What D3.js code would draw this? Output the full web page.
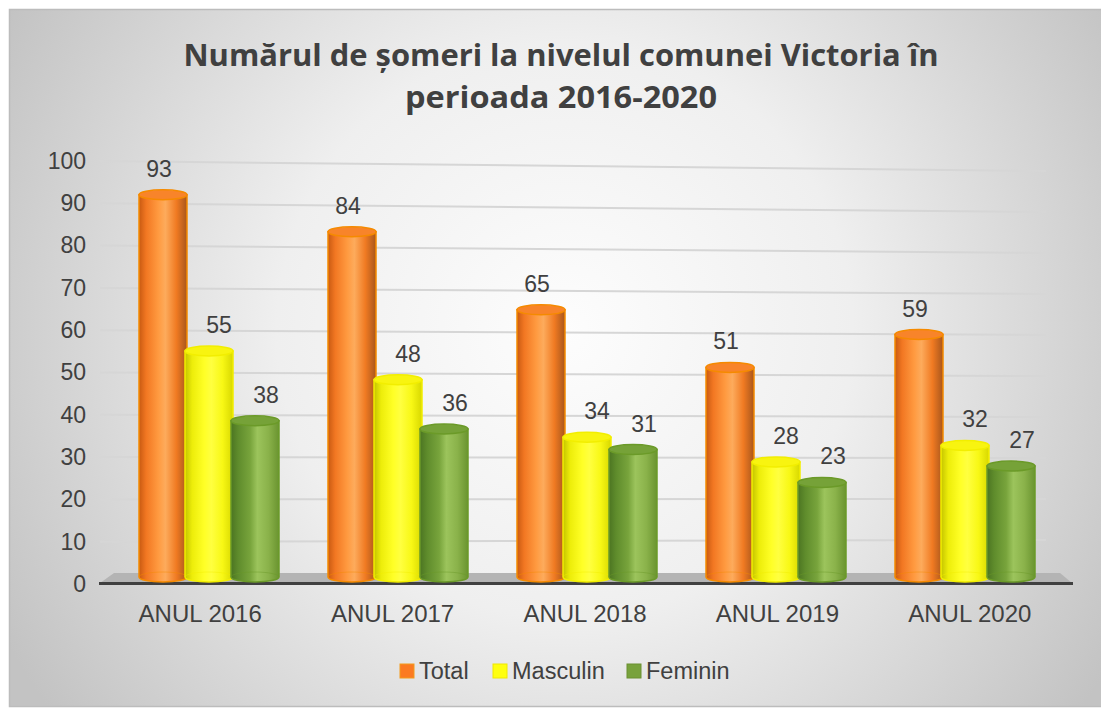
<!DOCTYPE html>
<html>
<head>
<meta charset="utf-8">
<script src="https://cdn.jsdelivr.net/npm/d3@7"></script>
<style>
  body { margin: 0; background: #fff; }
  svg { display: block; }
</style>
</head>
<body>
<script>
// data
var categories = ["ANUL 2016", "ANUL 2017", "ANUL 2018", "ANUL 2019", "ANUL 2020"];
var seriesNames = ["Total", "Masculin", "Feminin"];
var total = [93, 84, 65, 51, 59];
var masculin = [55, 48, 34, 28, 32];
var feminin = [38, 36, 31, 23, 27];
var yTicks = [0, 10, 20, 30, 40, 50, 60, 70, 80, 90, 100];

var W = 1101, H = 709;
var series = [total, masculin, feminin];

// colours per series: gradient stops, stroke, top face, legend
var looks = [
  {stops: ["#c85a12", "#f27722", "#ff9a40", "#fdab5c", "#f07a22", "#a8561c"], stroke: "#f58a00", top: "#f8842a", legend: "#fb7a22", legendStroke: "#f39a1a"},
  {stops: ["#c4c400", "#eded0a", "#ffff26", "#ffff40", "#f8f815", "#d8d800"], stroke: "#f2ee00", top: "#f8f410", legend: "#ffff10", legendStroke: "#f0e800"},
  {stops: ["#4c7522", "#5f8c2c", "#78a43c", "#9cc45c", "#8ab24a", "#6a9430"], stroke: "#6b9a28", top: "#76a238", legend: "#78a23c", legendStroke: "#6b9030"}
];

var svg = d3.select("body").append("svg")
    .attr("width", W)
    .attr("height", H);

var defs = svg.append("defs");

var bg = defs.append("radialGradient")
    .attr("id", "bg")
    .attr("gradientUnits", "userSpaceOnUse")
    .attr("cx", 565).attr("cy", 330).attr("r", 640);
bg.append("stop").attr("offset", 0).attr("stop-color", "#fdfdfd");
bg.append("stop").attr("offset", 0.45).attr("stop-color", "#efefef");
bg.append("stop").attr("offset", 1).attr("stop-color", "#c3c3c3");

looks.forEach(function(l, i) {
  var g = defs.append("linearGradient")
      .attr("id", "cyl" + i)
      .attr("x1", 0).attr("x2", 1).attr("y1", 0).attr("y2", 0);
  var offs = [0, 0.15, 0.4, 0.55, 0.78, 1];
  l.stops.forEach(function(c, k) {
    g.append("stop").attr("offset", offs[k]).attr("stop-color", c);
  });
});

// chart background + frame
svg.append("rect")
    .attr("x", 9.5).attr("y", 9.5)
    .attr("width", W).attr("height", 697)
    .attr("fill", "url(#bg)")
    .attr("stroke", "#bcbcbc")
    .attr("stroke-width", 1.5);

// title (fit Open Sans to the measured line lengths)
var titleLines = [
  {t: "Numărul de șomeri la nivelul comunei Victoria în", y: 66, w: 755},
  {t: "perioada 2016-2020", y: 108, w: 312}
];
titleLines.forEach(function(d) {
  svg.append("text")
      .attr("x", 561).attr("y", d.y)
      .attr("text-anchor", "middle")
      .attr("font-family", "'Open Sans', 'Noto Sans', sans-serif")
      .attr("font-weight", 700)
      .attr("font-size", 31)
      .attr("fill", "#404040")
      .attr("textLength", d.w)
      .attr("lengthAdjust", "spacingAndGlyphs")
      .text(d.t);
});

// scales: front axis (labels) and back wall (bars, a bit compressed by depth)
var x = d3.scaleBand().domain(categories).range([104, 1066]);
var xBack = d3.scaleBand().domain(categories).range([114.5, 1059.5]);
var y = d3.scaleLinear().domain([0, 100]).range([584, 161]);
var yRight = d3.scaleLinear().domain([0, 100]).range([581, 171]);
var yBar = d3.scaleLinear().domain([0, 100]).range([577, 166]);

// gridlines
svg.append("g").selectAll("line")
  .data(yTicks.slice(1))
  .enter().append("line")
    .attr("x1", 100).attr("x2", 1046)
    .attr("y1", function(d) { return y(d); })
    .attr("y2", function(d) { return yRight(d); })
    .attr("stroke", "#d6d6d6")
    .attr("stroke-width", 2);

// floor
svg.append("path")
    .attr("d", "M100,583 L114,573 L1060,573 L1072,583 Z")
    .attr("fill", "#b4b4b4");
svg.append("line")
    .attr("x1", 99).attr("x2", 1073)
    .attr("y1", 583.5).attr("y2", 583.5)
    .attr("stroke", "#404040")
    .attr("stroke-width", 3);

// y axis labels
var yAxis = svg.append("g")
    .attr("transform", "translate(86,0)")
    .call(d3.axisLeft(y).tickValues(yTicks).tickSize(0).tickPadding(0));
yAxis.select(".domain").remove();
yAxis.selectAll("text")
    .attr("font-family", "'Liberation Sans', Arial, sans-serif")
    .attr("font-size", 23)
    .attr("fill", "#404040");

// category labels
var xAxis = svg.append("g")
    .attr("transform", "translate(0,583)")
    .call(d3.axisBottom(x).tickSize(0).tickPadding(22));
xAxis.select(".domain").remove();
xAxis.selectAll("text")
    .attr("font-family", "'Liberation Sans', Arial, sans-serif")
    .attr("font-size", 24)
    .attr("fill", "#404040");

// cylinders
var barStep = 46, rx = 24, ry = 5;
var bars = [];
categories.forEach(function(c, ci) {
  series.forEach(function(s, si) {
    bars.push({cat: c, si: si, v: s[ci]});
  });
});

function barCx(d) {
  return xBack(d.cat) + xBack.bandwidth() / 2 + (d.si - 1) * barStep;
}

var bg2 = svg.append("g").selectAll("g.bar")
  .data(bars)
  .enter().append("g")
    .attr("class", "bar");

bg2.append("path")
    .attr("d", function(d) {
      var cx = barCx(d), yt = yBar(d.v), yb = yBar(0);
      return "M" + (cx - rx) + "," + yt +
             " L" + (cx - rx) + "," + yb +
             " A" + rx + "," + ry + " 0 0 0 " + (cx + rx) + "," + yb +
             " L" + (cx + rx) + "," + yt + " Z";
    })
    .attr("fill", function(d) { return "url(#cyl" + d.si + ")"; })
    .attr("stroke", function(d) { return looks[d.si].stroke; })
    .attr("stroke-width", 1.5);

// faint bottom rim
bg2.append("path")
    .attr("d", function(d) {
      var cx = barCx(d), yb = yBar(0);
      return "M" + (cx - rx) + "," + yb + " A" + rx + "," + ry + " 0 0 1 " + (cx + rx) + "," + yb;
    })
    .attr("fill", "none")
    .attr("stroke", function(d) { return looks[d.si].stroke; })
    .attr("stroke-opacity", 0.45)
    .attr("stroke-width", 1);

bg2.append("ellipse")
    .attr("cx", barCx)
    .attr("cy", function(d) { return yBar(d.v); })
    .attr("rx", rx)
    .attr("ry", ry)
    .attr("fill", function(d) { return looks[d.si].top; })
    .attr("stroke", function(d) { return looks[d.si].stroke; })
    .attr("stroke-width", 1.5);

// value labels
var labelShift = [-4, 10, 11];
svg.append("g").selectAll("text")
  .data(bars)
  .enter().append("text")
    .attr("x", function(d) { return barCx(d) + labelShift[d.si]; })
    .attr("y", function(d) { return yBar(d.v) - 18; })
    .attr("text-anchor", "middle")
    .attr("font-family", "'Liberation Sans', Arial, sans-serif")
    .attr("font-size", 23)
    .attr("fill", "#404040")
    .text(function(d) { return d.v; });

// legend
var legendX = [400, 493, 627];
var legend = svg.append("g").selectAll("g")
  .data(seriesNames)
  .enter().append("g")
    .attr("transform", function(d, i) { return "translate(" + legendX[i] + ",664)"; });

legend.append("rect")
    .attr("width", 14).attr("height", 14)
    .attr("fill", function(d, i) { return looks[i].legend; })
    .attr("stroke", function(d, i) { return looks[i].legendStroke; })
    .attr("stroke-width", 1);

legend.append("text")
    .attr("x", 19).attr("y", 14.5)
    .attr("font-family", "'Liberation Sans', Arial, sans-serif")
    .attr("font-size", 23.5)
    .attr("fill", "#404040")
    .text(function(d) { return d; });
</script>
</body>
</html>
